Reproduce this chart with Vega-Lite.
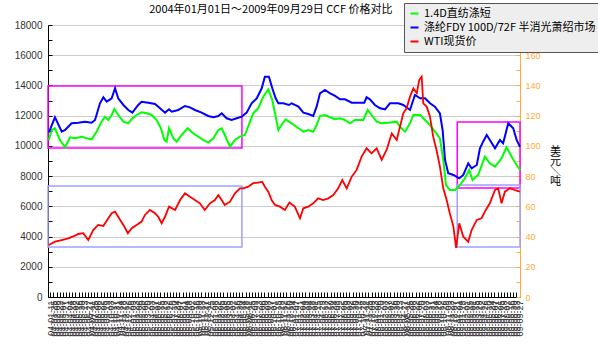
{
  "$schema": "https://vega.github.io/schema/vega-lite/v6.json",
  "width": 472,
  "height": 272,
  "autosize": {"type": "none"},
  "padding": {"left": 48, "top": 25, "right": 78, "bottom": 62},
  "background": "#ffffff",
  "config": {"view": {"stroke": null}, "font": "Liberation Sans", "axis": {"labelOverlap": false}},
  "title": {"text": "2004年01月01日～2009年09月29日 CCF 价格对比", "anchor": "start", "dx": 135, "dy": 18, "offset": 6, "fontSize": 11, "fontWeight": "normal", "font": "Noto Sans CJK SC", "color": "#000000"},
  "datasets": {
    "rects": [
      {"s": "2004-01-01", "e": "2006-05-12", "lo": 9860, "hi": 13963, "k": "m"},
      {"s": "2008-12-24", "e": "2009-09-29", "lo": 7213, "hi": 11580, "k": "m"},
      {"s": "2004-01-01", "e": "2006-05-12", "lo": 3309, "hi": 7346, "k": "l"},
      {"s": "2008-12-24", "e": "2009-09-29", "lo": 3309, "hi": 7411, "k": "l"}
    ],
    "g": [
      {"d":"2004-01-05","v":10390},{"d":"2004-01-17","v":11052},{"d":"2004-02-01","v":11165},{"d":"2004-02-23","v":10390},{"d":"2004-03-17","v":9907},{"d":"2004-04-08","v":10569},{"d":"2004-04-30","v":10503},{"d":"2004-05-30","v":10610},{"d":"2004-06-21","v":10503},{"d":"2004-07-13","v":10437},{"d":"2004-08-04","v":10940},{"d":"2004-08-26","v":11602},{"d":"2004-09-10","v":11932},{"d":"2004-09-25","v":11714},{"d":"2004-10-10","v":12045},{"d":"2004-10-22","v":12442},{"d":"2004-11-08","v":12045},{"d":"2004-12-01","v":11602},{"d":"2004-12-23","v":11495},
      {"d":"2005-01-10","v":11826},{"d":"2005-01-29","v":12045},{"d":"2005-02-20","v":12223},{"d":"2005-03-15","v":12157},{"d":"2005-04-06","v":12045},{"d":"2005-04-28","v":11714},{"d":"2005-05-17","v":11165},{"d":"2005-06-01","v":10390},{"d":"2005-06-11","v":10280},{"d":"2005-06-22","v":11165},{"d":"2005-07-11","v":10503},{"d":"2005-07-26","v":10280},{"d":"2005-08-17","v":10721},{"d":"2005-09-13","v":11165},{"d":"2005-10-07","v":10833},{"d":"2005-10-30","v":10610},{"d":"2005-11-21","v":10390},{"d":"2005-12-13","v":10215},
      {"d":"2006-01-05","v":10503},{"d":"2006-01-27","v":11052},{"d":"2006-02-11","v":11165},{"d":"2006-02-25","v":10721},{"d":"2006-03-20","v":9947},{"d":"2006-04-11","v":10390},{"d":"2006-05-03","v":10610},{"d":"2006-05-25","v":10721},{"d":"2006-06-17","v":11602},{"d":"2006-07-01","v":12157},{"d":"2006-07-23","v":12486},{"d":"2006-08-15","v":13256},{"d":"2006-09-06","v":13745},{"d":"2006-09-24","v":13037},{"d":"2006-10-06","v":12157},{"d":"2006-10-21","v":11052},{"d":"2006-11-04","v":11383},{"d":"2006-11-22","v":11760},{"d":"2006-12-07","v":11602},{"d":"2006-12-19","v":11495},
      {"d":"2007-01-18","v":11165},{"d":"2007-02-09","v":10940},{"d":"2007-03-03","v":11052},{"d":"2007-03-25","v":10940},{"d":"2007-04-09","v":11383},{"d":"2007-04-24","v":11978},{"d":"2007-05-16","v":12045},{"d":"2007-06-08","v":11893},{"d":"2007-06-30","v":11760},{"d":"2007-07-22","v":11826},{"d":"2007-08-13","v":11714},{"d":"2007-09-04","v":11495},{"d":"2007-09-26","v":11714},{"d":"2007-11-02","v":11714},{"d":"2007-11-22","v":12376},{"d":"2007-12-09","v":12045},
      {"d":"2008-01-01","v":11602},{"d":"2008-01-23","v":11495},{"d":"2008-02-21","v":11535},{"d":"2008-03-30","v":11602},{"d":"2008-04-13","v":11270},{"d":"2008-05-06","v":10940},{"d":"2008-05-28","v":11495},{"d":"2008-06-12","v":12045},{"d":"2008-07-12","v":12045},{"d":"2008-08-03","v":11714},{"d":"2008-08-25","v":11383},{"d":"2008-09-16","v":10940},{"d":"2008-10-08","v":10503},{"d":"2008-10-23","v":9067},{"d":"2008-11-04","v":7412},{"d":"2008-11-21","v":7081},{"d":"2008-12-14","v":7081},
      {"d":"2009-01-02","v":7346},{"d":"2009-01-27","v":7854},{"d":"2009-02-15","v":8405},{"d":"2009-03-02","v":7743},{"d":"2009-03-27","v":8074},{"d":"2009-04-26","v":9287},{"d":"2009-05-18","v":8848},{"d":"2009-06-10","v":8627},{"d":"2009-07-09","v":9177},{"d":"2009-07-31","v":9907},{"d":"2009-08-23","v":9287},{"d":"2009-09-14","v":8736},{"d":"2009-09-29","v":8405}
    ],
    "b": [
      {"d":"2004-01-05","v":10900},{"d":"2004-02-01","v":11893},{"d":"2004-03-02","v":10940},{"d":"2004-03-17","v":11052},{"d":"2004-04-15","v":11495},{"d":"2004-05-15","v":11535},{"d":"2004-06-13","v":11602},{"d":"2004-07-13","v":11535},{"d":"2004-07-28","v":11714},{"d":"2004-08-19","v":12820},{"d":"2004-09-03","v":13216},{"d":"2004-09-18","v":12925},{"d":"2004-10-10","v":13150},{"d":"2004-10-25","v":13812},{"d":"2004-11-08","v":13150},{"d":"2004-12-01","v":12707},{"d":"2004-12-23","v":12376},
      {"d":"2005-01-10","v":12200},{"d":"2005-02-05","v":12707},{"d":"2005-02-20","v":12925},{"d":"2005-03-22","v":12860},{"d":"2005-04-21","v":12773},{"d":"2005-05-13","v":12486},{"d":"2005-06-04","v":12200},{"d":"2005-06-22","v":12420},{"d":"2005-07-04","v":12265},{"d":"2005-08-02","v":12376},{"d":"2005-09-01","v":12640},{"d":"2005-09-23","v":12552},{"d":"2005-10-15","v":12376},{"d":"2005-11-14","v":12200},{"d":"2005-12-13","v":11978},
      {"d":"2006-01-05","v":11893},{"d":"2006-01-27","v":11978},{"d":"2006-02-11","v":12157},{"d":"2006-03-05","v":11826},{"d":"2006-03-27","v":11714},{"d":"2006-04-19","v":11826},{"d":"2006-05-11","v":11932},{"d":"2006-06-02","v":12200},{"d":"2006-06-24","v":12820},{"d":"2006-07-17","v":13150},{"d":"2006-08-08","v":13812},{"d":"2006-08-22","v":14580},{"d":"2006-09-09","v":14580},{"d":"2006-09-24","v":13812},{"d":"2006-10-09","v":13150},{"d":"2006-10-21","v":12820},{"d":"2006-11-12","v":12820},{"d":"2006-12-07","v":12707},{"d":"2006-12-19","v":12820},
      {"d":"2007-01-18","v":12597},{"d":"2007-02-09","v":12200},{"d":"2007-03-03","v":12111},{"d":"2007-03-25","v":11978},{"d":"2007-04-09","v":12597},{"d":"2007-04-24","v":13480},{"d":"2007-05-16","v":13700},{"d":"2007-06-08","v":13480},{"d":"2007-06-30","v":13303},{"d":"2007-07-22","v":13083},{"d":"2007-08-13","v":13083},{"d":"2007-09-12","v":12860},{"d":"2007-10-11","v":12860},{"d":"2007-11-07","v":12860},{"d":"2007-11-17","v":13216},{"d":"2007-12-02","v":13083},{"d":"2007-12-24","v":12707},
      {"d":"2008-01-16","v":12486},{"d":"2008-02-07","v":12420},{"d":"2008-02-29","v":12820},{"d":"2008-04-06","v":12820},{"d":"2008-04-28","v":12707},{"d":"2008-05-28","v":12376},{"d":"2008-06-19","v":13368},{"d":"2008-07-12","v":13150},{"d":"2008-08-03","v":13150},{"d":"2008-08-25","v":12820},{"d":"2008-09-16","v":12597},{"d":"2008-10-08","v":12157},{"d":"2008-10-20","v":11052},{"d":"2008-10-31","v":9067},{"d":"2008-11-14","v":8185},{"d":"2008-12-07","v":8074},
      {"d":"2009-01-02","v":7854},{"d":"2009-01-20","v":8074},{"d":"2009-02-11","v":8848},{"d":"2009-02-26","v":8517},{"d":"2009-03-21","v":8736},{"d":"2009-04-04","v":9841},{"d":"2009-04-18","v":10280},{"d":"2009-05-04","v":10721},{"d":"2009-05-18","v":10390},{"d":"2009-06-10","v":9841},{"d":"2009-07-02","v":10390},{"d":"2009-07-16","v":10170},{"d":"2009-08-08","v":11495},{"d":"2009-08-30","v":11165},{"d":"2009-09-14","v":10390},{"d":"2009-09-29","v":9947}
    ],
    "r": [
      {"d":"2004-01-05","u":34.4},{"d":"2004-02-01","u":36.6},{"d":"2004-03-02","u":37.7},{"d":"2004-03-31","u":38.8},{"d":"2004-04-30","u":40.6},{"d":"2004-05-15","u":41.7},{"d":"2004-06-06","u":42.2},{"d":"2004-06-28","u":37.7},{"d":"2004-07-20","u":44.3},{"d":"2004-08-11","u":47.7},{"d":"2004-09-03","u":47.0},{"d":"2004-09-25","u":52.1},{"d":"2004-10-10","u":55.4},{"d":"2004-10-25","u":56.5},{"d":"2004-11-08","u":53.1},{"d":"2004-12-01","u":47.7},{"d":"2004-12-21","u":42.2},
      {"d":"2005-01-07","u":45.5},{"d":"2005-01-29","u":47.7},{"d":"2005-02-20","u":49.9},{"d":"2005-03-07","u":54.3},{"d":"2005-03-29","u":57.6},{"d":"2005-04-21","u":55.4},{"d":"2005-05-05","u":53.1},{"d":"2005-05-20","u":48.8},{"d":"2005-06-04","u":53.1},{"d":"2005-06-22","u":59.8},{"d":"2005-07-19","u":57.6},{"d":"2005-08-10","u":64.2},{"d":"2005-09-01","u":68.6},{"d":"2005-09-23","u":66.4},{"d":"2005-10-15","u":64.2},{"d":"2005-11-06","u":62.0},{"d":"2005-11-28","u":57.6},{"d":"2005-12-21","u":62.0},
      {"d":"2006-01-12","u":64.2},{"d":"2006-01-27","u":67.5},{"d":"2006-02-11","u":64.2},{"d":"2006-02-25","u":60.9},{"d":"2006-03-20","u":63.1},{"d":"2006-04-11","u":68.6},{"d":"2006-05-03","u":71.9},{"d":"2006-05-18","u":71.9},{"d":"2006-06-09","u":73.0},{"d":"2006-07-01","u":75.3},{"d":"2006-07-23","u":75.7},{"d":"2006-08-10","u":76.3},{"d":"2006-08-22","u":73.0},{"d":"2006-09-06","u":69.7},{"d":"2006-09-21","u":64.2},{"d":"2006-10-06","u":60.9},{"d":"2006-10-28","u":59.8},{"d":"2006-11-19","u":57.6},{"d":"2006-12-09","u":62.5},
      {"d":"2007-01-02","u":59.8},{"d":"2007-01-25","u":52.1},{"d":"2007-02-09","u":58.7},{"d":"2007-03-03","u":59.8},{"d":"2007-03-25","u":62.0},{"d":"2007-04-16","u":65.3},{"d":"2007-05-08","u":64.2},{"d":"2007-05-31","u":65.3},{"d":"2007-06-22","u":67.5},{"d":"2007-07-14","u":71.9},{"d":"2007-08-01","u":77.4},{"d":"2007-08-21","u":71.9},{"d":"2007-09-12","u":79.6},{"d":"2007-10-04","u":84.1},{"d":"2007-10-26","u":92.9},{"d":"2007-11-17","u":98.4},{"d":"2007-12-09","u":95.1},
      {"d":"2008-01-01","u":98.4},{"d":"2008-01-23","u":90.7},{"d":"2008-02-14","u":97.3},{"d":"2008-03-08","u":108.3},{"d":"2008-03-30","u":103.9},{"d":"2008-04-21","u":117.1},{"d":"2008-04-28","u":121.6},{"d":"2008-05-13","u":124.9},{"d":"2008-05-28","u":132.6},{"d":"2008-06-12","u":138.1},{"d":"2008-06-27","u":134.8},{"d":"2008-07-08","u":143.6},{"d":"2008-07-19","u":145.8},{"d":"2008-07-26","u":128.2},{"d":"2008-08-10","u":126.0},{"d":"2008-08-25","u":119.3},{"d":"2008-09-08","u":106.1},{"d":"2008-09-23","u":97.3},{"d":"2008-10-08","u":86.3},{"d":"2008-10-23","u":71.9},{"d":"2008-11-07","u":64.2},{"d":"2008-11-21","u":55.4},{"d":"2008-12-07","u":46.6},{"d":"2008-12-19","u":32.5},
      {"d":"2009-01-02","u":48.8},{"d":"2009-01-20","u":39.9},{"d":"2009-02-11","u":36.6},{"d":"2009-02-26","u":44.3},{"d":"2009-03-21","u":51.0},{"d":"2009-04-11","u":52.1},{"d":"2009-04-30","u":57.6},{"d":"2009-05-18","u":62.0},{"d":"2009-06-10","u":70.8},{"d":"2009-06-24","u":71.9},{"d":"2009-07-09","u":62.0},{"d":"2009-07-24","u":69.7},{"d":"2009-08-15","u":71.9},{"d":"2009-09-06","u":70.8},{"d":"2009-09-29","u":69.7}
    ]
  },
  "layer": [
    {
      "layer": [
        {
          "data": {"name": "rects"},
          "mark": {"type": "rect", "filled": false, "strokeWidth": 1.5},
          "encoding": {
            "x": {"field": "s", "type": "temporal", "title": null},
            "x2": {"field": "e"},
            "y": {"field": "lo", "type": "quantitative", "title": null},
            "y2": {"field": "hi"},
            "stroke": {"field": "k", "type": "nominal", "scale": {"domain": ["m", "l"], "range": ["#ff00ff", "#a0a0ff"]}, "legend": null}
          }
        },
        {
          "data": {"name": "g"},
          "mark": {"type": "line", "strokeWidth": 2},
          "encoding": {
            "x": {
              "field": "d", "type": "temporal", "title": null,
              "scale": {"domain": [{"year": 2004, "month": 1, "date": 1}, {"year": 2009, "month": 9, "date": 29}]},
              "axis": {
                "format": "%y-%m-%d", "labelAngle": -90, "labelFontSize": 9, "labelOverlap": false, "labelFlush": false,
                "tickCount": {"interval": "week", "step": 2}, "tickSize": -5, "labelPadding": 8,
                "domainColor": "#000000", "tickColor": "#000000", "labelColor": "#333333", "grid": false
              }
            },
            "y": {
              "field": "v", "type": "quantitative", "title": null,
              "scale": {"domain": [0, 18000], "nice": false},
              "axis": {
                "values": [0,1000,2000,3000,4000,5000,6000,7000,8000,9000,10000,11000,12000,13000,14000,15000,16000,17000,18000],
                "tickCount": 40,
                "format": "d", "labelExpr": "datum.value % 2000 === 0 ? datum.label : ''", "labelOverlap": false, "labelBound": false,
                "grid": true, "gridColor": "#cccccc",
                "gridOpacity": {"condition": {"test": "datum.value % 2000 !== 0", "value": 0}, "value": 1},
                "domainColor": "#000000", "tickColor": "#000000", "tickSize": -4, "labelPadding": 10,
                "labelFontSize": 10, "labelColor": "#333333"
              }
            },
            "color": {
              "datum": "1.4D直纺涤短", "type": "nominal",
              "scale": {"domain": ["1.4D直纺涤短", "涤纶FDY 100D/72F 半消光萧绍市场", "WTI现货价"], "range": ["#00ff00", "#0000ff", "#ff0000"]},
              "legend": {
                "orient": "none", "legendX": 356, "legendY": -22, "title": null,
                "fillColor": "#eeeeee", "strokeColor": "#555555", "padding": 5,
                "symbolType": "stroke", "symbolStrokeWidth": 2, "symbolSize": 64,
                "labelFont": "Noto Sans CJK SC", "labelFontSize": 11, "labelColor": "#000000", "labelLimit": 300,
                "rowPadding": 2, "labelOffset": 4
              }
            }
          }
        },
        {
          "data": {"name": "b"},
          "mark": {"type": "line", "strokeWidth": 2},
          "encoding": {
            "x": {"field": "d", "type": "temporal", "title": null},
            "y": {"field": "v", "type": "quantitative", "title": null},
            "color": {"datum": "涤纶FDY 100D/72F 半消光萧绍市场", "type": "nominal"}
          }
        }
      ]
    },
    {
      "data": {"name": "r"},
      "mark": {"type": "line", "strokeWidth": 1.8},
      "encoding": {
        "x": {"field": "d", "type": "temporal", "title": null},
        "y": {
          "field": "u", "type": "quantitative",
          "scale": {"domain": [0, 180], "nice": false},
          "axis": {
            "orient": "right",
            "values": [0,10,20,30,40,50,60,70,80,90,100,110,120,130,140,150,160,170,180],
            "tickCount": 40,
            "labelExpr": "datum.value % 20 === 0 ? datum.label : ''", "labelOverlap": false,
            "grid": false, "domainColor": "#ffaa33", "tickColor": "#ffaa33", "labelColor": "#ffaa33",
            "tickSize": -4, "labelPadding": 9, "labelFontSize": 9,
            "title": ["美", "元", "＼", "吨"], "titleAngle": 0, "titleX": 35, "titleY": 120,
            "titleAlign": "center", "titleBaseline": "top", "titleFontSize": 11,
            "titleFont": "Noto Sans CJK SC", "titleFontWeight": "normal", "titleColor": "#000000", "titleLineHeight": 10
          }
        },
        "color": {"datum": "WTI现货价", "type": "nominal"}
      }
    }
  ],
  "resolve": {"scale": {"y": "independent"}}
}
